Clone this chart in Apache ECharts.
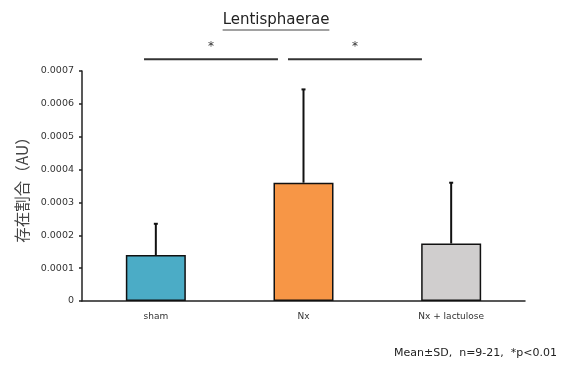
<!DOCTYPE html>
<html><head><meta charset="utf-8">
<script src="https://cdn.jsdelivr.net/npm/echarts@6/dist/echarts.min.js"></script>
<style>html,body{margin:0;padding:0;background:#fff}#c{width:561px;height:367px}</style>
</head><body><div id="c"></div>
<script>
var categories = ['sham', 'Nx', 'Nx + lactulose'];
var means = [0.00014, 0.00036, 0.000175];
var sds = [0.000095, 0.000284, 0.000185];
var barColors = ['#4BACC6', '#F79646', '#D0CECE'];
var yTicks = [0, 0.0001, 0.0002, 0.0003, 0.0004, 0.0005, 0.0006, 0.0007];
// significance brackets: [start (category units), end (category units), label]
var sigBrackets = [[-0.08, 0.827, '*'], [0.895, 1.802, '*']];
var sigLevel = 0.000736;
var titleText = 'Lentisphaerae';

var titleFont = '15px "DejaVu Sans"';
var cv = document.createElement('canvas').getContext('2d');
cv.font = titleFont;
var tW = cv.measureText(titleText).width;
var tCx = 276;

var chart = echarts.init(document.getElementById('c'));
var latin = 'DejaVu Sans';
chart.setOption({
  animation: false,
  backgroundColor: '#fff',
  grid: {left: 82, right: 36, top: 71, bottom: 66},
  graphic: [
    {type: 'text', left: tCx - tW / 2, top: 13, style: {text: titleText, font: titleFont, fill: '#222'}},
    {type: 'line', shape: {x1: tCx - tW / 2, y1: 30, x2: tCx + tW / 2, y2: 30}, style: {stroke: '#444', lineWidth: 1}},
    {type: 'text', right: 4, bottom: 8, style: {text: 'Mean±SD,  n=9-21,  *p<0.01', font: '11px "DejaVu Sans"', fill: '#222'}}
  ],
  xAxis: [{
    type: 'category', data: categories,
    axisLine: {lineStyle: {color: '#222', width: 1.5}},
    axisTick: {show: false},
    axisLabel: {fontSize: 9, color: '#333', margin: 11, fontFamily: latin}
  }, {
    type: 'value', min: -0.5, max: 2.5, show: false
  }],
  yAxis: {
    type: 'value', min: 0, max: 0.0007, interval: 0.0001,
    name: '存在割合（AU）', nameLocation: 'middle', nameGap: 41, nameRotate: 90,
    nameTextStyle: {fontSize: 15.5, color: '#444', fontFamily: 'Noto Sans CJK JP'},
    axisLine: {show: true, onZero: false, lineStyle: {color: '#222', width: 1.5}},
    axisTick: {show: true, length: 3, lineStyle: {color: '#222', width: 1.5}},
    splitLine: {show: false},
    axisLabel: {fontSize: 9.5, color: '#333', margin: 8, fontFamily: latin,
      formatter: function (v) { return v === 0 ? '0' : v.toFixed(4); }}
  },
  series: [{
    type: 'bar', barWidth: 60,
    data: means.map(function (m, i) { return {value: m, itemStyle: {color: barColors[i]}}; }),
    itemStyle: {borderColor: '#111', borderWidth: 1.5},
    z: 2
  }, {
    type: 'custom', z: 1,
    data: means.map(function (m, i) { return [i, m, m + sds[i]]; }),
    renderItem: function (params, api) {
      var p0 = api.coord([api.value(0), api.value(1)]);
      var p1 = api.coord([api.value(0), api.value(2)]);
      return {type: 'group', children: [
        {type: 'line', shape: {x1: p0[0], y1: p0[1], x2: p1[0], y2: p1[1]}, style: {stroke: '#111', lineWidth: 2}},
        {type: 'line', shape: {x1: p1[0] - 2, y1: p1[1], x2: p1[0] + 2, y2: p1[1]}, style: {stroke: '#111', lineWidth: 2}}
      ]};
    }
  }, {
    type: 'custom', xAxisIndex: 1, clip: false, z: 3,
    data: sigBrackets.map(function (b) { return [b[0], b[1], sigLevel]; }),
    renderItem: function (params, api) {
      var a = api.coord([api.value(0), api.value(2)]);
      var b = api.coord([api.value(1), api.value(2)]);
      return {type: 'group', children: [
        {type: 'line', shape: {x1: a[0], y1: a[1], x2: b[0], y2: b[1]}, style: {stroke: '#333', lineWidth: 2}},
        {type: 'text', style: {text: sigBrackets[params.dataIndex][2], x: (a[0] + b[0]) / 2, y: a[1] - 6, align: 'center', verticalAlign: 'bottom', font: '12px "DejaVu Sans"', fill: '#333'}}
      ]};
    }
  }]
});
</script>
</body></html>
